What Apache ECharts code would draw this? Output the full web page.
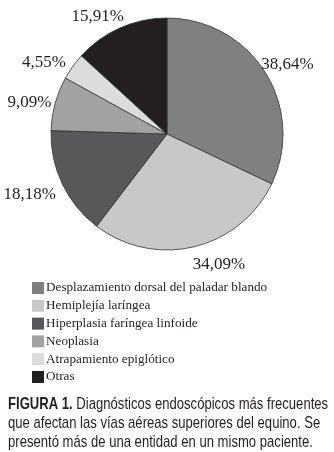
<!DOCTYPE html>
<html><head><meta charset="utf-8">
<script src="https://cdn.jsdelivr.net/npm/echarts@6/dist/echarts.min.js"></script>
<style>html,body{margin:0;padding:0;background:#fff}#c{width:334px;height:452px}</style>
</head><body><div id="c"></div>
<script>
const categories = ["Desplazamiento dorsal del paladar blando","Hemiplejía laríngea","Hiperplasia faríngea linfoide","Neoplasia","Atrapamiento epiglótico","Otras"];
const values = [38.64, 34.09, 18.18, 9.09, 4.55, 15.91];
const labels = ["38,64%","34,09%","18,18%","9,09%","4,55%","15,91%"];
const colors = ["#808080","#c8c8c9","#58585a","#a2a2a3","#dcdcdd","#231f20"];
const captionLines = [
  [{t:'FIGURA 1.', b:true},{t:' Diagnósticos endoscópicos más frecuentes'}],
  [{t:'que afectan las vías aéreas superiores del equino. Se'}],
  [{t:'presentó más de una entidad en un mismo paciente.'}]
];
// small style nudges for the outside labels (dx, dy in px)
const labelNudges = [[-14,-4],[-8,12],[4,8],[7,1],[3,0],[11,-6]];

const chart = echarts.init(document.getElementById('c'), null, {renderer:'canvas'});
const capFont = 'Liberation Sans';
const capScale = 0.77;
chart.setOption({
  animation:false,
  color: colors,
  legend:{
    orient:'vertical', left:27, top:276, itemWidth:12, itemHeight:12, itemGap:3.8,
    icon:'rect', selectedMode:false,
    itemStyle:{borderWidth:0},
    textStyle:{fontFamily:'Liberation Serif', fontSize:13.2, lineHeight:14, color:'#231f20', padding:[0,0,0,-3]},
    data: categories
  },
  graphic: captionLines.map((line,i)=>({
    type:'text', left:8, top:396 + i*19, scaleX:capScale, originX:0,
    style:{
      text: line.map(s=>s.b ? '{b|'+s.t+'}' : '{n|'+s.t+'}').join(''),
      rich:{
        b:{fontFamily:capFont, fontWeight:'bold', fontSize:17, fill:'#231f20'},
        n:{fontFamily:capFont, fontSize:17, fill:'#231f20'}
      }
    }
  })),
  series:[{
    type:'pie', center:[167,134], radius:116, startAngle:90, clockwise:true,
    avoidLabelOverlap:false,
    itemStyle:{borderColor:'#333', borderWidth:0.8},
    label:{show:true, position:'outside', fontFamily:'Liberation Serif', fontSize:17, color:'#231f20',
      formatter:(p)=>labels[p.dataIndex]},
    labelLine:{show:false, length:6, length2:0},
    labelLayout:(p)=>({dx:labelNudges[p.dataIndex][0], dy:labelNudges[p.dataIndex][1]}),
    emphasis:{disabled:true},
    data: categories.map((c,i)=>({name:c, value:values[i]}))
  }]
});
</script></body></html>
